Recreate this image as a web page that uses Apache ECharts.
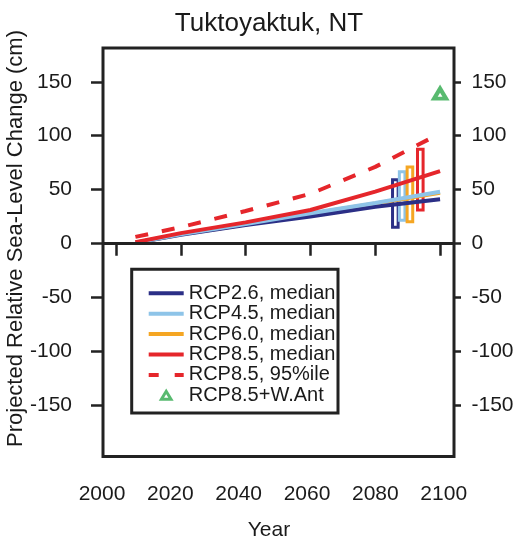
<!DOCTYPE html>
<html><head><meta charset="utf-8">
<script src="https://cdn.jsdelivr.net/npm/echarts@6/dist/echarts.min.js"></script>
<style>html,body{margin:0;padding:0;background:#fff}#c{width:518px;height:544px}</style>
</head><body><div id="c"></div>
<script>
// ---- data ----
const years      = [2006, 2020, 2040, 2060, 2080, 2100];
const rcp26      = [0.5, 8, 17, 25, 34, 41];
const rcp45      = [0.5, 8.5, 18, 28, 37.5, 48];
const rcp60      = [0.5, 8.5, 17.5, 27.5, 37, 47];
const rcp85      = [1, 9.5, 19.5, 31, 48, 67];
const rcp85p95   = [6, 15, 30, 46, 71, 102];
const rangeNames = ['RCP2.6', 'RCP4.5', 'RCP6.0', 'RCP8.5'];
const rangeYears = [2086.2, 2088.3, 2090.7, 2093.9];
const rangeLow   = [15, 21.5, 20, 31];
const rangeHigh  = [59, 66.5, 71, 87.5];
const wantYears  = [2100];
const wantValues = [139];
const yTicks     = [-150, -100, -50, 0, 50, 100, 150];
const xTicks     = [2000, 2020, 2040, 2060, 2080, 2100];
const legendNames = ['RCP2.6, median', 'RCP4.5, median', 'RCP6.0, median', 'RCP8.5, median', 'RCP8.5, 95%ile', 'RCP8.5+W.Ant'];

// ---- styles ----
const FONT = '"Liberation Sans", Arial, Helvetica, sans-serif';
const TXT = '#1a1a1a';
const FRAME = '#222';
const C26 = '#2b2f86', C45 = '#8ec4e8', C60 = '#f5a623', C85 = '#e5262b', CW = '#2ea94b';
const rangeColors = [C26, C45, C60, C85];
const LW = 4;
const legendColors = { 'RCP2.6, median': C26, 'RCP4.5, median': C45, 'RCP6.0, median': C60, 'RCP8.5, median': C85, 'RCP8.5, 95%ile': C85 };

const pairs = arr => years.map((y, i) => [y, arr[i]]);
const lineSeries = (name, arr, color, extra) => Object.assign({
  name, type: 'line', xAxisIndex: 0, yAxisIndex: 0, data: pairs(arr),
  symbol: 'none', smooth: false, color,
  lineStyle: { color, width: LW }
}, extra || {});

const chart = echarts.init(document.getElementById('c'), null, { renderer: 'canvas' });

const yAxisCommon = {
  type: 'value', gridIndex: 0, min: -197.9, max: 181.4,
  axisLine: { show: false }, splitLine: { show: false }
};

const legendData = legendNames.map(n => n === 'RCP8.5+W.Ant'
  ? { name: n, icon: 'path://M0,10L6,0L12,10Z', itemStyle: { color: '#fff', borderColor: CW, borderWidth: 3 } }
  : { name: n, itemStyle: { opacity: 0 },
      lineStyle: { width: 4, color: legendColors[n], type: n.indexOf('95') > 0 ? [10, 16] : 'solid' } });

chart.setOption({
  animation: false,
  backgroundColor: '#fff',
  grid: [
    { left: 103, top: 48, right: 64, bottom: 87.5, show: true, borderColor: FRAME, borderWidth: 3, backgroundColor: 'transparent' },
    { left: 102, top: 48, right: 74.3, bottom: 87.5, show: false }
  ],
  xAxis: [
    { type: 'value', gridIndex: 0, min: 1996, max: 2104.3,
      axisLine: { show: false }, splitLine: { show: false },
      axisTick: { show: true, customValues: xTicks, length: 12.5, lineStyle: { color: FRAME, width: 2.5 } },
      axisLabel: { show: false } },
    { type: 'value', gridIndex: 1, min: 2000, max: 2100, interval: 20,
      axisLine: { show: false }, splitLine: { show: false }, axisTick: { show: false },
      axisLabel: { show: true, fontSize: 21, margin: 27, color: TXT, fontFamily: FONT,
        formatter: v => String(v) } }
  ],
  yAxis: [
    Object.assign({}, yAxisCommon, { position: 'left',
      axisTick: { show: true, customValues: yTicks, length: 12, lineStyle: { color: FRAME, width: 2.5 } },
      axisLabel: { customValues: yTicks, fontSize: 21, margin: 31, color: TXT, fontFamily: FONT } }),
    Object.assign({}, yAxisCommon, { position: 'right',
      axisTick: { show: true, customValues: yTicks, length: 7, lineStyle: { color: FRAME, width: 2.5 } },
      axisLabel: { customValues: yTicks, fontSize: 21, margin: 17.5, color: TXT, fontFamily: FONT } }),
    { type: 'value', gridIndex: 1, show: false, min: 0, max: 1 }
  ],
  legend: {
    show: true, selectedMode: false, orient: 'vertical',
    left: 146.7, top: 283.3, padding: 0,
    itemWidth: 35, itemHeight: 8, itemGap: 0.4,
    symbolKeepAspect: true,
    lineStyle: { width: 4 },
    textStyle: { fontSize: 20, lineHeight: 20, color: TXT, fontFamily: FONT },
    data: legendData
  },
  graphic: [
    { type: 'rect', shape: { x: 131.7, y: 269.3, width: 206.3, height: 143.7 },
      style: { fill: 'none', stroke: FRAME, lineWidth: 3 }, silent: true },
    { type: 'text', x: 269, y: 24, silent: true,
      style: { text: 'Tuktoyaktuk, NT', x: 0, y: 0, align: 'center', verticalAlign: 'middle', fontSize: 26, fill: TXT, fontFamily: FONT } },
    { type: 'text', x: 269, y: 530, silent: true,
      style: { text: 'Year', x: 0, y: 0, align: 'center', verticalAlign: 'middle', fontSize: 21, fill: TXT, fontFamily: FONT } },
    { type: 'text', x: 16, y: 238.5, rotation: Math.PI / 2, silent: true,
      style: { text: 'Projected Relative Sea-Level Change (cm)', x: 0, y: 0, align: 'center', verticalAlign: 'middle', fontSize: 22, fill: TXT, fontFamily: FONT } }
  ],
  series: [
    lineSeries('RCP6.0, median', rcp60, C60, {
      markLine: { silent: true, symbol: 'none', label: { show: false },
        lineStyle: { color: FRAME, width: 3, type: 'solid' }, data: [{ yAxis: 0 }] }
    }),
    lineSeries('RCP2.6, median', rcp26, C26),
    lineSeries('RCP4.5, median', rcp45, C45),
    lineSeries('RCP8.5, median', rcp85, C85),
    lineSeries('RCP8.5, 95%ile', rcp85p95, C85, { lineStyle: { color: C85, width: LW, type: [13, 14] } }),
    {
      name: 'ranges', type: 'custom', xAxisIndex: 0, yAxisIndex: 0,
      data: rangeNames.map((n, i) => [rangeYears[i], rangeLow[i], rangeHigh[i], i]),
      renderItem: function (params, api) {
        const lo = api.coord([api.value(0), api.value(1)]);
        const hi = api.coord([api.value(0), api.value(2)]);
        const half = 2.8;
        return {
          type: 'rect',
          shape: { x: lo[0] - half, y: hi[1], width: half * 2, height: lo[1] - hi[1] },
          style: { fill: 'none', stroke: rangeColors[api.value(3)], lineWidth: 3 }
        };
      }
    },
    {
      name: 'RCP8.5+W.Ant', type: 'scatter', xAxisIndex: 0, yAxisIndex: 0,
      data: wantYears.map((y, i) => [y, wantValues[i]]),
      symbol: 'triangle', symbolSize: [12, 10], color: CW,
      itemStyle: { color: '#fff', borderColor: CW, borderWidth: 4 }
    }
  ]
});
</script>
</body></html>
